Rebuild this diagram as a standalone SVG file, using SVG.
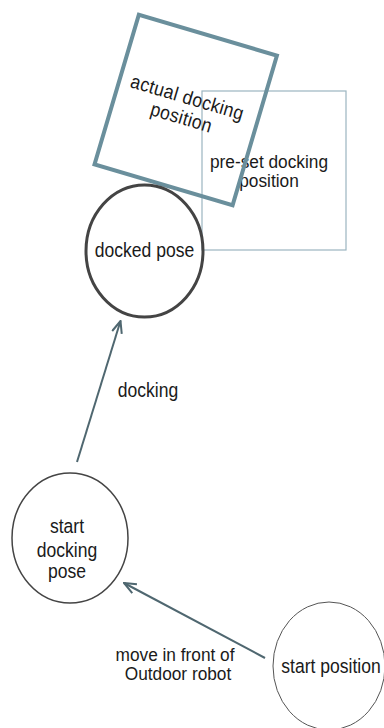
<svg xmlns="http://www.w3.org/2000/svg" width="384" height="728" viewBox="0 0 384 728">
<style>
text{font-family:"Liberation Sans",Arial,sans-serif;font-size:19.5px;fill:#1a1a1a;text-anchor:middle}
text.t{font-size:18px}
.conn{stroke:#4f6770;stroke-width:2;fill:none}
</style>
<defs>
<marker id="arr" viewBox="0 0 14 12" refX="13" refY="6" markerWidth="14" markerHeight="12" markerUnits="userSpaceOnUse" orient="auto">
<path d="M1,1 L13,6 L1,11" fill="none" stroke="#4f6770" stroke-width="2"/>
</marker>
</defs>
<rect width="384" height="728" fill="#fff"/>
<g id="preset">
<rect x="202" y="91" width="144" height="159" fill="none" stroke="#9bb5c0" stroke-width="1.2"/>
<text class="t" transform="translate(269,168) scale(0.96,1)">pre-set docking</text>
<text class="t" transform="translate(269,187) scale(0.96,1)">position</text>
</g>
<g id="actual" transform="translate(186,109) rotate(16.5)">
<rect x="-72" y="-77" width="144" height="156" fill="none" stroke="#6a8f9c" stroke-width="4"/>
<text transform="translate(-2,-5) scale(0.9,1)" font-size="18" letter-spacing="0.4">actual docking</text>
<text transform="translate(-2,16) scale(0.9,1)" font-size="18" letter-spacing="0.4">position</text>
</g>
<g id="docked">
<ellipse cx="144.5" cy="251" rx="58.5" ry="66" fill="none" stroke="#444" stroke-width="3"/>
<text transform="translate(144.5,257) scale(0.9,1)">docked pose</text>
</g>
<g id="startdock">
<ellipse cx="70" cy="538" rx="58" ry="65" fill="none" stroke="#444" stroke-width="1.5"/>
<text transform="translate(67,533) scale(0.9,1)">start</text>
<text transform="translate(67,557) scale(0.9,1)">docking</text>
<text transform="translate(67,578) scale(0.9,1)">pose</text>
</g>
<g id="startpos">
<ellipse cx="329" cy="666" rx="56" ry="64" fill="none" stroke="#555" stroke-width="1"/>
<text transform="translate(331,673) scale(0.9,1)">start position</text>
</g>
<g id="connectors">
<line class="conn" x1="77" y1="462" x2="120.5" y2="321" marker-end="url(#arr)"/>
<text transform="translate(148,397) scale(0.9,1)">docking</text>
<line class="conn" x1="265" y1="658" x2="124" y2="583" marker-end="url(#arr)"/>
<text class="t" transform="translate(175,661) scale(0.96,1)">move in front of</text>
<text class="t" transform="translate(178,680) scale(0.96,1)">Outdoor robot</text>
</g>
</svg>
